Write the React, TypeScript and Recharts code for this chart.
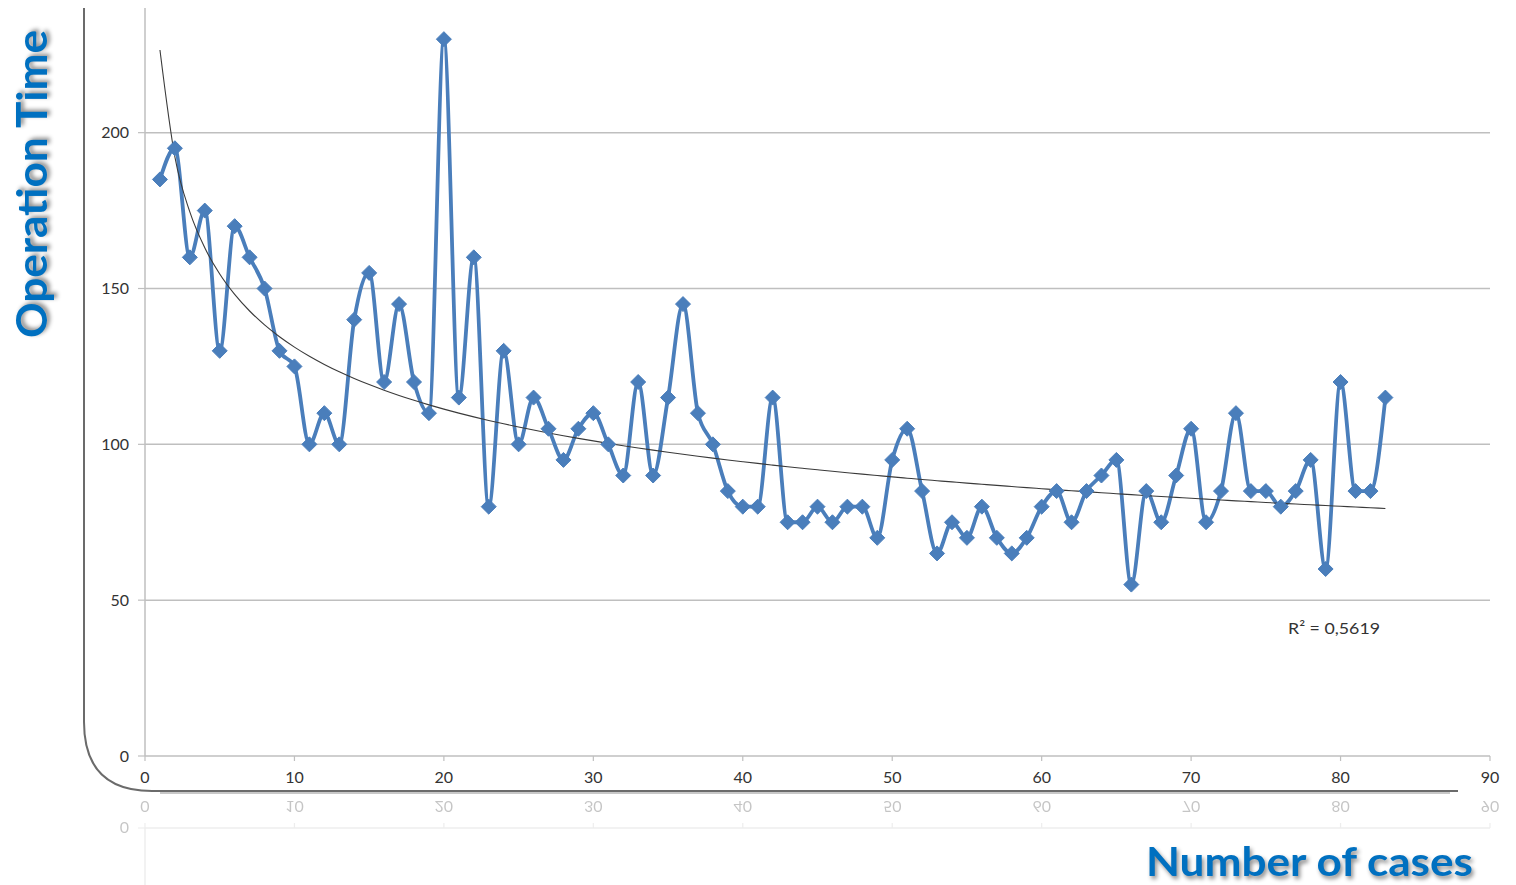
import React from 'react';
import { LineChart, Line, XAxis, YAxis, ReferenceLine } from 'recharts';

const caseNumbers = [
  1, 2, 3, 4, 5, 6, 7, 8, 9, 10, 11, 12, 13, 14, 15, 16, 17, 18, 19, 20,
  21, 22, 23, 24, 25, 26, 27, 28, 29, 30, 31, 32, 33, 34, 35, 36, 37, 38, 39, 40,
  41, 42, 43, 44, 45, 46, 47, 48, 49, 50, 51, 52, 53, 54, 55, 56, 57, 58, 59, 60,
  61, 62, 63, 64, 65, 66, 67, 68, 69, 70, 71, 72, 73, 74, 75, 76, 77, 78, 79, 80,
  81, 82, 83,
];

const operationTime = [
  185, 195, 160, 175, 130, 170, 160, 150, 130, 125,
  100, 110, 100, 140, 155, 120, 145, 120, 110, 230,
  115, 160, 80, 130, 100, 115, 105, 95, 105, 110,
  100, 90, 120, 90, 115, 145, 110, 100, 85, 80,
  80, 115, 75, 75, 80, 75, 80, 80, 70, 95,
  105, 85, 65, 75, 70, 80, 70, 65, 70, 80,
  85, 75, 85, 90, 95, 55, 85, 75, 90, 105,
  75, 85, 110, 85, 85, 80, 85, 95, 60, 120,
  85, 85, 115,
];

const xTicks = [0, 10, 20, 30, 40, 50, 60, 70, 80, 90];
const yTicks = [0, 50, 100, 150, 200];
const gridValues = [50, 100, 150, 200];
const reflectionYTicks = [0];
const rSquaredLabel = 'R² = 0,5619';
const yTitle = 'Operation Time';
const xTitle = 'Number of cases';

// Power trend line (y = a * x^b), least squares fit on ln-ln, as Excel does
function powerFit(xs: number[], ys: number[]) {
  const n = xs.length;
  const lx = xs.map((v) => Math.log(v));
  const ly = ys.map((v) => Math.log(v));
  const mx = lx.reduce((s, v) => s + v, 0) / n;
  const my = ly.reduce((s, v) => s + v, 0) / n;
  let sxy = 0;
  let sxx = 0;
  for (let i = 0; i < n; i++) {
    sxy += (lx[i] - mx) * (ly[i] - my);
    sxx += (lx[i] - mx) * (lx[i] - mx);
  }
  const b = sxy / sxx;
  const a = Math.exp(my - b * mx);
  return (x: number) => a * Math.pow(x, b);
}

const trendFn = powerFit(caseNumbers, operationTime);

const rows = caseNumbers.map((c, i) => ({
  case: c,
  time: operationTime[i],
  trend: trendFn(c),
}));

const BLUE = '#4A7EBB';
const GRID = '#BFBFBF';
const TICK_FONT = { fontFamily: 'Lato, "Open Sans", sans-serif', fontSize: 16, fill: '#333333' };

const Diamond = (props: any) => {
  const { cx, cy, index } = props;
  if (cx == null || cy == null) return <g key={`d-${index}`} />;
  const r = 7.5;
  return (
    <path
      key={`d-${index}`}
      d={`M${cx},${cy - r} L${cx + r},${cy} L${cx},${cy + r} L${cx - r},${cy} Z`}
      fill={BLUE}
      stroke={BLUE}
      strokeWidth={1}
    />
  );
};

function ChartBody({ withSeries }: { withSeries: boolean }) {
  const ticksY = withSeries ? yTicks : reflectionYTicks;
  return (
    <LineChart
      width={1516}
      height={885}
      data={rows}
      margin={{ top: 8, right: 26, bottom: 99, left: 85 }}
    >
      {withSeries &&
        gridValues.map((v) => (
          <ReferenceLine key={`g-${v}`} y={v} stroke={GRID} strokeWidth={1.5} ifOverflow="hidden" />
        ))}
      <XAxis
        type="number"
        dataKey="case"
        domain={[0, 90]}
        ticks={xTicks}
        interval={0}
        height={30}
        axisLine={{ stroke: GRID, strokeWidth: 1.5 }}
        tickLine={{ stroke: GRID, strokeWidth: 1.2 }}
        tickSize={5}
        tickMargin={11}
        tick={TICK_FONT}
        allowDataOverflow
      />
      <YAxis
        type="number"
        domain={[0, 240]}
        ticks={ticksY}
        interval={0}
        width={60}
        axisLine={{ stroke: GRID, strokeWidth: 1.5 }}
        tickLine={{ stroke: GRID, strokeWidth: 1.2 }}
        tickSize={7}
        tickMargin={9}
        tick={TICK_FONT}
        allowDataOverflow
      />
      {withSeries && (
        <Line
          dataKey="time"
          type="monotoneX"
          stroke={BLUE}
          strokeWidth={3.8}
          dot={(p: any) => <Diamond {...p} />}
          activeDot={false}
          isAnimationActive={false}
        />
      )}
      {withSeries && (
        <Line
          dataKey="trend"
          type="monotoneX"
          stroke="#3A3A3A"
          strokeWidth={1.1}
          dot={false}
          activeDot={false}
          isAnimationActive={false}
        />
      )}
    </LineChart>
  );
}

export default function App() {
  const titleStyle: React.CSSProperties = {
    fontFamily: 'Lato, "Open Sans", sans-serif',
    fontWeight: 700,
    fill: '#0070C0',
    filter: 'drop-shadow(2px 3px 2px rgba(0,0,0,0.45))',
  };
  return (
    <div
      style={{
        position: 'absolute',
        left: 0,
        top: 0,
        width: 1516,
        height: 885,
        overflow: 'hidden',
        background: '#ffffff',
      }}
    >
      {/* reflection of the lower part of the chart */}
      <div
        style={{
          position: 'absolute',
          left: 0,
          top: 792,
          width: 1516,
          height: 93,
          overflow: 'hidden',
          opacity: 0.28,
        }}
      >
        <div
          style={{
            position: 'absolute',
            left: 0,
            top: 792,
            width: 1516,
            height: 885,
            transform: 'scaleY(-1)',
            transformOrigin: '0 0',
          }}
        >
          <ChartBody withSeries={false} />
        </div>
      </div>

      <div style={{ position: 'absolute', left: 0, top: 0 }}>
        <ChartBody withSeries={true} />
      </div>

      <svg
        width={1516}
        height={885}
        style={{ position: 'absolute', left: 0, top: 0, pointerEvents: 'none' }}
      >
        <path
          d="M84,8 L84,722 Q84,791 152,791 L1458,791"
          fill="none"
          stroke="#6b6b6b"
          strokeWidth={2}
        />
        <path d="M160,793 L1450,793" stroke="#c8c8c8" strokeWidth={2} />
        <text
          x={1288}
          y={634}
          fontSize={16}
          textLength={92}
          lengthAdjust="spacingAndGlyphs"
          style={{ fontFamily: 'Lato, "Open Sans", sans-serif', fill: '#333333' }}
        >
          {rSquaredLabel}
        </text>
        <text
          transform="translate(47,184) rotate(-90)"
          textAnchor="middle"
          fontSize={42}
          textLength={308}
          lengthAdjust="spacingAndGlyphs"
          style={titleStyle}
        >
          {yTitle}
        </text>
        <text
          x={1146}
          y={876}
          fontSize={40}
          textLength={327}
          lengthAdjust="spacingAndGlyphs"
          style={titleStyle}
        >
          {xTitle}
        </text>
      </svg>
    </div>
  );
}
